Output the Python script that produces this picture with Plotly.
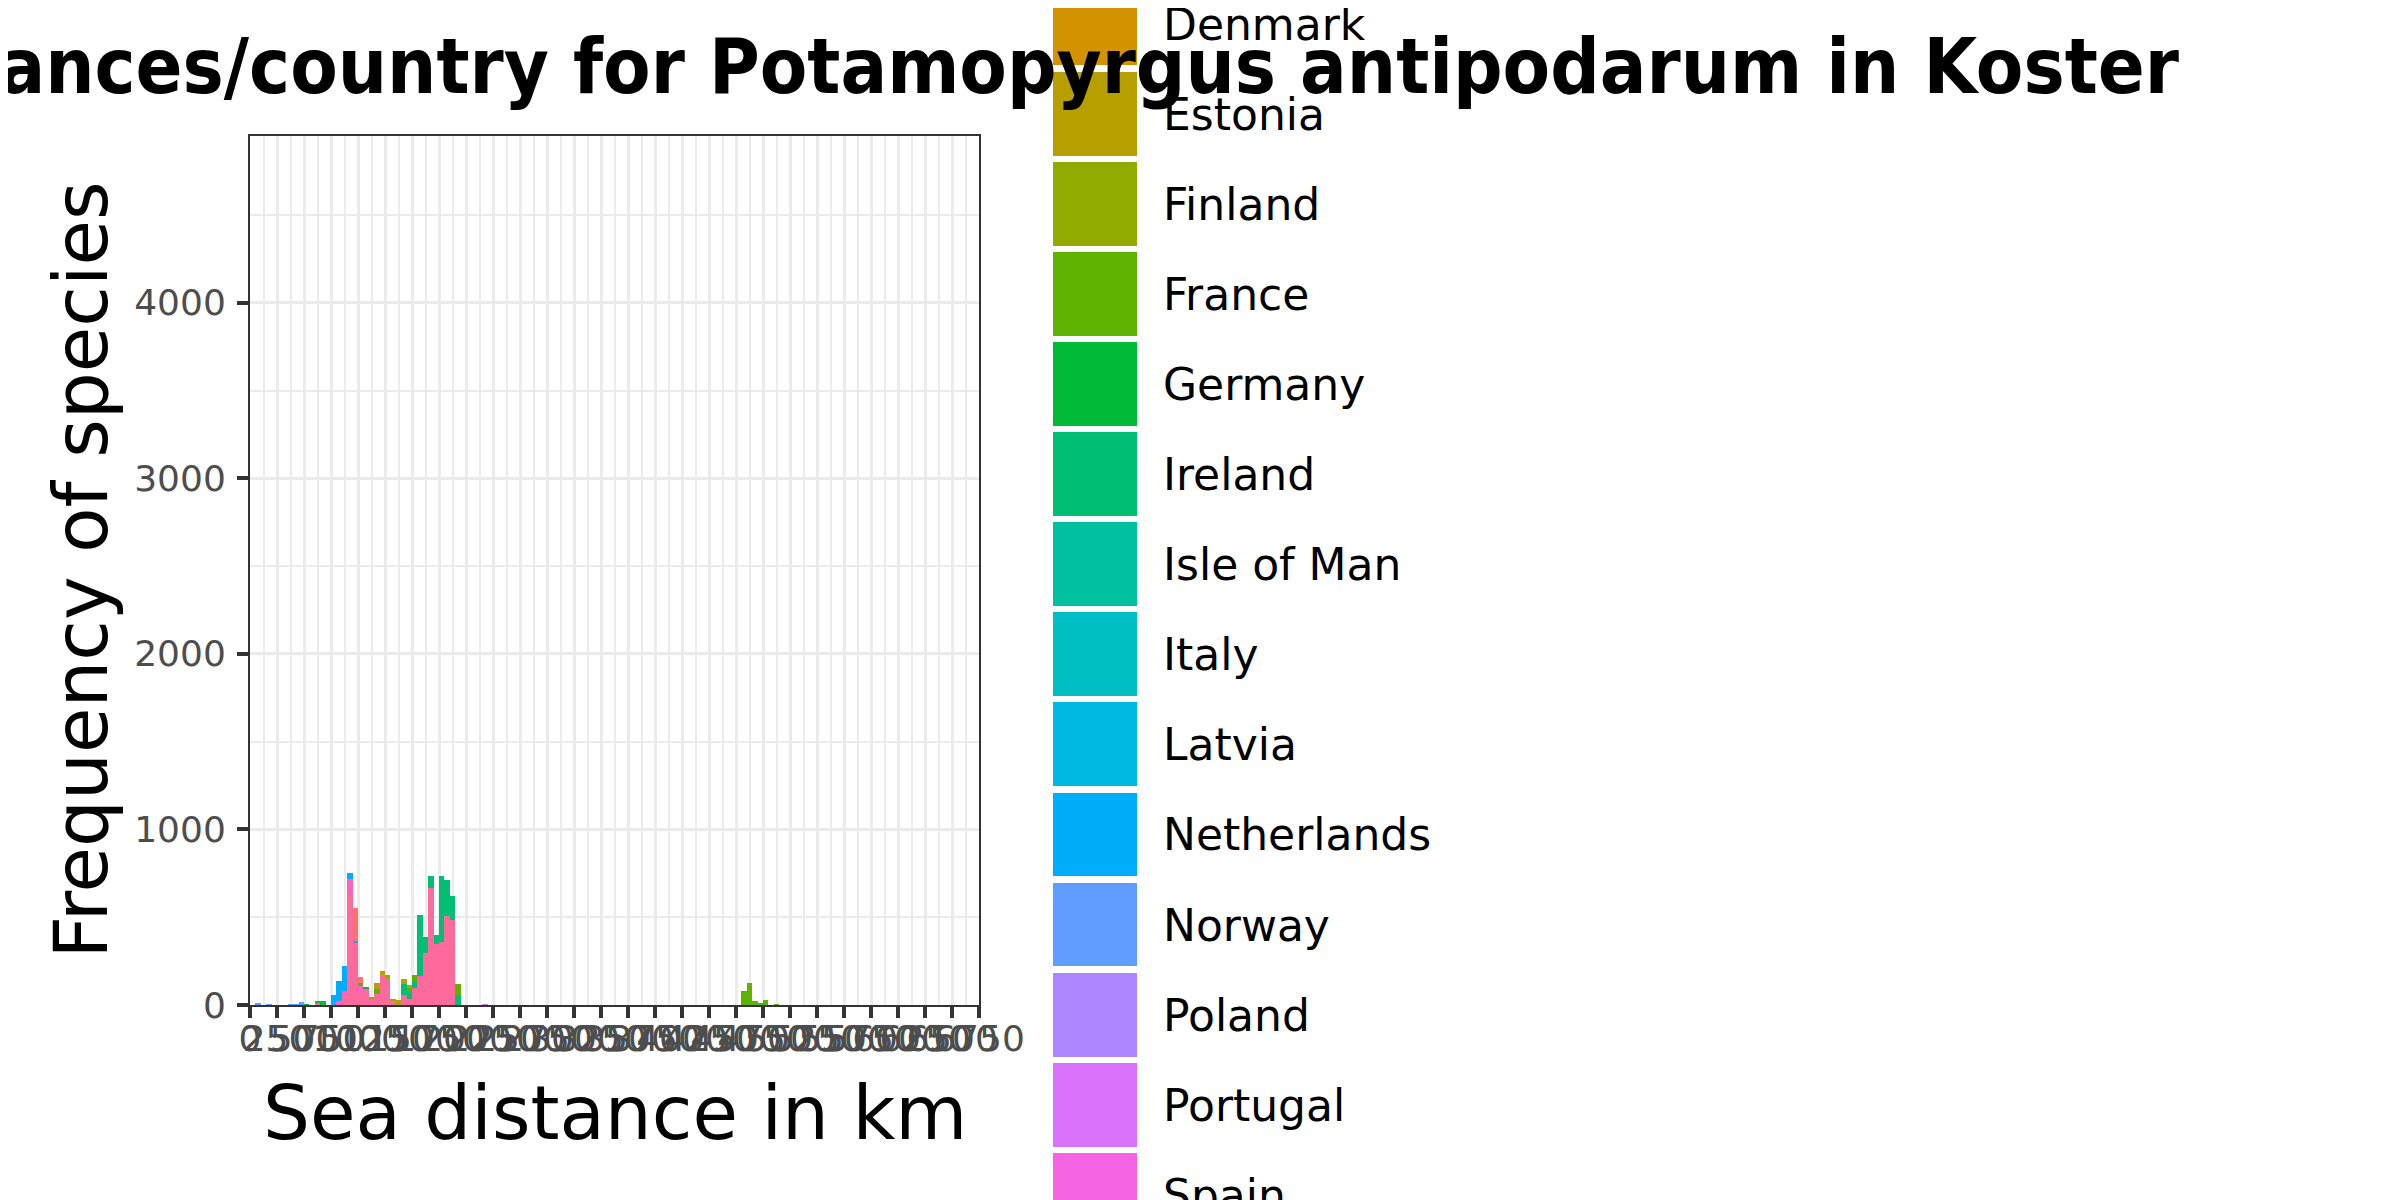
import plotly.graph_objects as go

W, H = 2400, 1200
OFF = 8  # the page body adds an 8 px margin around the figure

# ---------------- data ----------------
countries = ["Belgium", "Croatia", "Denmark", "Estonia", "Finland", "France",
             "Germany", "Ireland", "Isle of Man", "Italy", "Latvia", "Netherlands",
             "Norway", "Poland", "Portugal", "Spain", "Sweden", "United Kingdom"]
palette = ["#F8766D", "#E88526", "#D39200", "#B79F00", "#93AA00", "#5EB300",
           "#00BA38", "#00BF74", "#00C19F", "#00BFC4", "#00B9E3", "#00ADFA",
           "#619CFF", "#AE87FF", "#DB72FB", "#F564E3", "#FF61C3", "#FF699C"]

bin_width = 50  # km

# bin start (km) and count per country
belgium_km = [950, 1000]
belgium_n = [186, 32]
estonia_km = [1150, 1200, 1350, 1400, 1450]
estonia_n = [30, 23, 15, 25, 15]
finland_km = [1100, 1250, 1300, 1350]
finland_n = [10, 23, 6, 8]
france_km = [1000, 1150, 1450, 1500, 1900, 4550, 4600, 4650, 4700, 4750, 4850]
france_n = [19, 30, 25, 34, 66, 80, 127, 25, 10, 30, 4]
germany_km = [500, 600, 650, 1050]
germany_n = [3, 6, 25, 6]
ireland_km = [1400, 1450, 1500, 1550, 1600, 1650, 1700, 1750, 1800, 1850, 1900]
ireland_n = [63, 38, 42, 351, 89, 66, 53, 376, 209, 137, 55]
netherlands_km = [750, 800, 850, 900, 950]
netherlands_n = [58, 114, 144, 34, 11]
norway_km = [50, 150, 350, 400, 450, 1100]
norway_n = [8, 3, 3, 3, 15, 6]
portugal_km = [2150]
portugal_n = [3]
sweden_km = [800, 850, 900, 1000, 1550]
sweden_n = [20, 23, 84, 38, 11]
uk_km = [600, 850, 900, 950, 1000, 1050, 1100, 1150, 1200, 1250, 1300, 1350,
         1400, 1450, 1500, 1550, 1600, 1650, 1700, 1750, 1800, 1850]
uk_n = [15, 57, 632, 355, 68, 95, 30, 63, 169, 146, 26, 5,
        59, 34, 97, 152, 296, 666, 347, 357, 505, 482]

x_ticks = list(range(0, 6751, 250))
y_ticks = [0, 1000, 2000, 3000, 4000]
x_max = 6750
y_max = 4950

series = {
    "Belgium": (belgium_km, belgium_n),
    "Estonia": (estonia_km, estonia_n),
    "Finland": (finland_km, finland_n),
    "France": (france_km, france_n),
    "Germany": (germany_km, germany_n),
    "Ireland": (ireland_km, ireland_n),
    "Netherlands": (netherlands_km, netherlands_n),
    "Norway": (norway_km, norway_n),
    "Portugal": (portugal_km, portugal_n),
    "Sweden": (sweden_km, sweden_n),
    "United Kingdom": (uk_km, uk_n),
}

# ---------------- layout helpers (page pixels -> paper) ----------------
def px_x(p):
    return (p - OFF) / W

def px_y(p):
    return 1 - (p - OFF) / H

panel_l, panel_r, panel_t, panel_b = 250, 979, 136, 1005
FONT = "DejaVu Sans"
TITLE_FONT = "DejaVu Sans Condensed, DejaVu Sans"

fig = go.Figure()

# stacked histogram: ggplot stacks first level on top -> add last level first
for name in reversed(countries):
    if name not in series:
        continue
    km, n = series[name]
    fig.add_trace(go.Bar(
        x=[k + bin_width / 2 for k in km], y=n, width=bin_width,
        marker=dict(color=palette[countries.index(name)], line=dict(width=0)),
        name=name, xaxis="x", yaxis="y", showlegend=False,
    ))

# manual legend drawn on its own axes
key_w = 84
leg_left = 1053
first_row_px, row_step = 23.5, 90.1  # page-pixel centre of "Denmark" row (index 2)
label_dy = 5 / row_step               # labels sit slightly below key centres
y2_top = 2 + (OFF - first_row_px) / row_step
y2_bot = 2 + (OFF + H - first_row_px) / row_step
x2_max = (OFF + W - leg_left) / key_w

rows = list(range(len(countries)))
fig.add_trace(go.Bar(
    x=[1] * len(countries), y=rows, orientation="h",
    width=0.93, marker=dict(color=palette, line=dict(width=0)),
    xaxis="x2", yaxis="y2", showlegend=False, hoverinfo="skip",
))
fig.add_trace(go.Scatter(
    x=[(1163 - leg_left) / key_w] * len(countries), y=[r + label_dy for r in rows],
    text=countries, mode="text", textposition="middle right",
    textfont=dict(family=FONT, size=44, color="black"),
    xaxis="x2", yaxis="y2", showlegend=False, hoverinfo="skip",
))

axis_common = dict(
    showline=True, mirror=True, linecolor="#333333", linewidth=2,
    ticks="outside", ticklen=11, tickwidth=3.5, tickcolor="#333333",
    tickfont=dict(family=FONT, size=36, color="#4D4D4D"),
    showgrid=True, gridcolor="#EBEBEB", gridwidth=3, zeroline=False,
    tickangle=0, automargin=False,
)

fig.update_layout(
    width=W, height=H, margin=dict(l=0, r=0, t=0, b=0, pad=0, autoexpand=False),
    paper_bgcolor="white", plot_bgcolor="white",
    barmode="stack", bargap=0, showlegend=False,
    xaxis=dict(domain=[px_x(panel_l), px_x(panel_r)], range=[0, x_max],
               tickmode="array", tickvals=x_ticks, ticktext=[str(v) for v in x_ticks],
               minor=dict(dtick=125, tick0=0, showgrid=True, gridcolor="#EBEBEB",
                          gridwidth=1.5, ticks=""),
               ticklabelstandoff=-10,
               anchor="y", **axis_common),
    yaxis=dict(domain=[px_y(panel_b), px_y(panel_t)], range=[0, y_max],
               tickmode="array", tickvals=y_ticks, ticktext=[str(v) for v in y_ticks],
               minor=dict(dtick=500, tick0=0, showgrid=True, gridcolor="#EBEBEB",
                          gridwidth=1.5, ticks=""),
               ticklabelstandoff=4,
               anchor="x", **axis_common),
    xaxis2=dict(domain=[px_x(leg_left), 1.0], range=[0, x2_max], visible=False,
                anchor="y2", fixedrange=True, automargin=False),
    yaxis2=dict(domain=[0, 1], range=[y2_bot, y2_top], visible=False,
                anchor="x2", fixedrange=True, automargin=False),
    annotations=[
        dict(text="<b>Sea distances/country for Potamopyrgus antipodarum in Koster</b>",
             xref="paper", yref="paper", x=px_x(2181), y=px_y(66),
             xanchor="right", yanchor="middle", showarrow=False,
             font=dict(family=TITLE_FONT, size=77, color="black")),
        dict(text="Sea distance in km", xref="paper", yref="paper",
             x=px_x((panel_l + panel_r) / 2), y=px_y(1113),
             xanchor="center", yanchor="middle", showarrow=False,
             font=dict(family=FONT, size=74, color="black")),
        dict(text="Frequency of species", xref="paper", yref="paper",
             x=px_x(80), y=px_y((panel_t + panel_b) / 2), textangle=-90,
             xanchor="center", yanchor="middle", showarrow=False,
             font=dict(family=FONT, size=74, color="black")),
    ],
)

fig.write_html("out.html")
